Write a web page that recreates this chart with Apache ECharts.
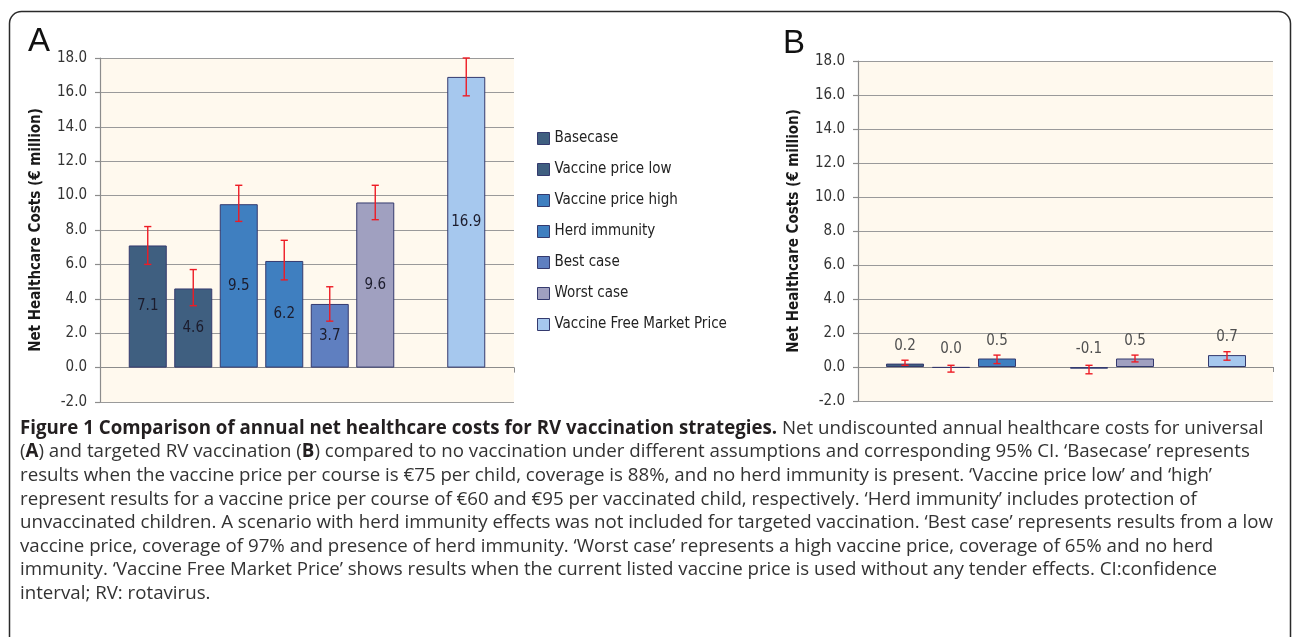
<!DOCTYPE html>
<html>
<head>
<meta charset="utf-8">
<script src="https://cdn.jsdelivr.net/npm/echarts@6/dist/echarts.min.js"></script>
<style>
  html, body { margin: 0; padding: 0; background: #ffffff; }
  #main { width: 1292px; height: 637px; }
</style>
</head>
<body>
<div id="main"></div>
<script>
// scenarios, one slot each on the x axis (slot 6 is left empty in both panels)
var scenarios = ['Basecase', 'Vaccine price low', 'Vaccine price high', 'Herd immunity',
                 'Best case', 'Worst case', 'Vaccine Free Market Price'];
var slotOf = [0, 1, 2, 3, 4, 5, 7];
var slotCount = 8;
var colors = ['#3f5f80', '#3f5f80', '#3f7fc0', '#3f7fc0', '#5f7fc0', '#a0a0c0', '#a6c8ee'];

// panel A: universal vaccination
var universalCost = [7.1, 4.6, 9.5, 6.2, 3.7, 9.6, 16.9];
var universalLow  = [6.0, 3.6, 8.5, 5.1, 2.7, 8.6, 15.8];
var universalHigh = [8.2, 5.7, 10.6, 7.4, 4.7, 10.6, 18.0];

// panel B: targeted vaccination (no herd immunity scenario)
var targetedCost = [0.2, -0.05, 0.5, null, -0.1, 0.5, 0.7];
var targetedLow  = [0.1, -0.3, 0.2, null, -0.4, 0.3, 0.4];
var targetedHigh = [0.4, 0.1, 0.7, null, 0.1, 0.7, 0.9];

var yMin = -2, yMax = 18, yStep = 2;
var yTitle = 'Net Healthcare Costs (\u20ac million)';

var chartFont = "'DejaVu Sans Condensed', 'DejaVu Sans', sans-serif";
var captionFont = "'Open Sans', 'Noto Sans', sans-serif";

var chart = echarts.init(document.getElementById('main'), null, { renderer: 'canvas' });

var grids = [
  { left: 100, top: 58, width: 414, height: 344, show: true, backgroundColor: '#fff9ee', borderWidth: 0 },
  { left: 125, top: 58, width: 364, height: 344 },
  { left: 858, top: 61, width: 415, height: 340, show: true, backgroundColor: '#fff9ee', borderWidth: 0 },
  { left: 882, top: 61, width: 368, height: 340 }
];

function slotNames() {
  var out = [];
  for (var i = 0; i < slotCount; i++) out.push('s' + i);
  return out;
}

function bgXAxis(g) {
  return {
    type: 'category', gridIndex: g, data: [''], boundaryGap: true,
    axisLine: { onZero: true, lineStyle: { color: '#8c8c8c', width: 1.2 } },
    axisTick: { show: true, length: 5, lineStyle: { color: '#8c8c8c' } },
    axisLabel: { show: false }, splitLine: { show: false }
  };
}
function barXAxis(g) {
  return { type: 'category', gridIndex: g, data: slotNames(), show: false };
}
function bgYAxis(g, gap) {
  return {
    type: 'value', gridIndex: g, min: yMin, max: yMax, interval: yStep,
    name: yTitle, nameLocation: 'middle', nameGap: gap, nameRotate: 90,
    nameTextStyle: { fontFamily: chartFont, fontWeight: 'bold', fontSize: 15, color: '#1a1a1a' },
    axisLine: { show: true, lineStyle: { color: '#8c8c8c', width: 1.2 } },
    axisTick: { show: true, length: 5, lineStyle: { color: '#8c8c8c', width: 1.2 } },
    axisLabel: {
      margin: 13, fontFamily: chartFont, fontSize: 15, color: '#333',
      formatter: function (v) { return v.toFixed(1); }
    },
    splitLine: { show: true, lineStyle: { color: '#9a9a9a', width: 1.2 } }
  };
}
function barYAxis(g) {
  return { type: 'value', gridIndex: g, min: yMin, max: yMax, interval: yStep, show: false, splitLine: { show: false } };
}

var series = [];

function addPanel(cost, low, high, xi, labelPos, labelColor) {
  scenarios.forEach(function (name, k) {
    if (cost[k] === null) return;
    var data = [];
    for (var i = 0; i < slotCount; i++) data.push('-');
    data[slotOf[k]] = cost[k];
    series.push({
      name: name, type: 'bar', xAxisIndex: xi, yAxisIndex: xi,
      data: data, barWidth: 38, barGap: '-100%',
      itemStyle: { color: colors[k], borderColor: '#343a6e', borderWidth: 1 },
      label: {
        show: true, position: labelPos, distance: 10,
        fontFamily: chartFont, fontSize: 15, color: labelColor,
        formatter: function (p) { return (Math.round(p.value * 10) / 10).toFixed(1); }
      },
      emphasis: { disabled: true }
    });
  });
  var errData = [];
  scenarios.forEach(function (name, k) {
    if (cost[k] === null) return;
    errData.push([slotOf[k], low[k], high[k]]);
  });
  series.push({
    type: 'custom', xAxisIndex: xi, yAxisIndex: xi, data: errData, z: 5,
    renderItem: function (params, api) {
      var x = api.value(0);
      var lo = api.coord([x, api.value(1)]);
      var hi = api.coord([x, api.value(2)]);
      var c = 3.6;
      var st = { stroke: '#ee1c25', lineWidth: 1.4 };
      return {
        type: 'group', children: [
          { type: 'line', shape: { x1: hi[0], y1: hi[1], x2: lo[0], y2: lo[1] }, style: st },
          { type: 'line', shape: { x1: hi[0] - c, y1: hi[1], x2: hi[0] + c, y2: hi[1] }, style: st },
          { type: 'line', shape: { x1: lo[0] - c, y1: lo[1], x2: lo[0] + c, y2: lo[1] }, style: st }
        ]
      };
    },
    silent: true
  });
}

addPanel(universalCost, universalLow, universalHigh, 1, 'inside', '#1c1c2c');
addPanel(targetedCost, targetedLow, targetedHigh, 3, 'top', '#505050');

// caption, line by line as in the figure
var captionLines = [
  [['b', 'Figure 1 Comparison of annual net healthcare costs for RV vaccination strategies.'], ['n', ' Net undiscounted annual healthcare costs for universal']],
  [['n', '('], ['b', 'A'], ['n', ') and targeted RV vaccination ('], ['b', 'B'], ['n', ') compared to no vaccination under different assumptions and corresponding 95% CI. \u2018Basecase\u2019 represents']],
  [['n', 'results when the vaccine price per course is \u20ac75 per child, coverage is 88%, and no herd immunity is present. \u2018Vaccine price low\u2019 and \u2018high\u2019']],
  [['n', 'represent results for a vaccine price per course of \u20ac60 and \u20ac95 per vaccinated child, respectively. \u2018Herd immunity\u2019 includes protection of']],
  [['n', 'unvaccinated children. A scenario with herd immunity effects was not included for targeted vaccination. \u2018Best case\u2019 represents results from a low']],
  [['n', 'vaccine price, coverage of 97% and presence of herd immunity. \u2018Worst case\u2019 represents a high vaccine price, coverage of 65% and no herd']],
  [['n', 'immunity. \u2018Vaccine Free Market Price\u2019 shows results when the current listed vaccine price is used without any tender effects. CI:confidence']],
  [['n', 'interval; RV: rotavirus.']]
];

var graphics = [
  { type: 'rect', shape: { x: 9.5, y: 11.5, width: 1281, height: 700, r: 12 }, style: { fill: 'none', stroke: '#2a2a2a', lineWidth: 1.5 }, z: -10, silent: true },
  { type: 'text', left: 28, top: 25, style: { text: 'A', font: "33px 'Liberation Sans', Arial, sans-serif", fill: '#111' } },
  { type: 'text', left: 783, top: 27, style: { text: 'B', font: "33px 'Liberation Sans', Arial, sans-serif", fill: '#111' } }
];

captionLines.forEach(function (line, i) {
  var txt = line.map(function (seg) { return '{' + seg[0] + '|' + seg[1].replace(/[{}]/g, '') + '}'; }).join('');
  graphics.push({
    type: 'text', left: 20, top: 419 + i * 23.6,
    style: {
      text: txt,
      rich: {
        b: { fontFamily: captionFont, fontWeight: 'bold', fontSize: 18.7, lineHeight: 24, fill: '#231f20' },
        n: { fontFamily: captionFont, fontSize: 18.7, lineHeight: 24, fill: '#333333' }
      }
    },
    silent: true
  });
});

chart.setOption({
  animation: false,
  grid: grids,
  xAxis: [bgXAxis(0), barXAxis(1), bgXAxis(2), barXAxis(3)],
  yAxis: [bgYAxis(0, 56), barYAxis(1), bgYAxis(2, 56), barYAxis(3)],
  legend: {
    data: scenarios, orient: 'vertical', left: 532, top: 126,
    itemWidth: 12, itemHeight: 12, itemGap: 16, icon: 'rect',
    itemStyle: { borderColor: '#343a6e', borderWidth: 1 },
    textStyle: { fontFamily: chartFont, fontSize: 15, color: '#222' },
    selectedMode: false
  },
  series: series,
  graphic: graphics
});
</script>
</body>
</html>
